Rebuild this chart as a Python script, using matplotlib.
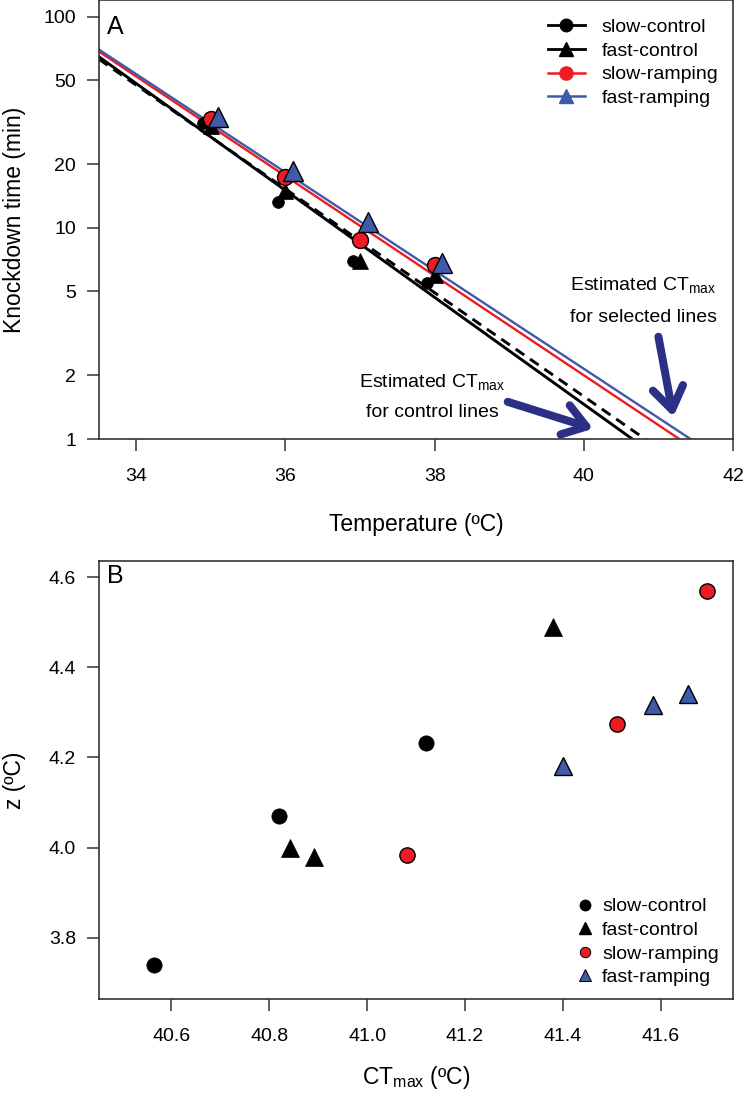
import numpy as np
import matplotlib
matplotlib.use('Agg')
import matplotlib.pyplot as plt
from matplotlib.lines import Line2D

plt.rcParams['font.family'] = ['Liberation Sans', 'DejaVu Sans']
plt.rcParams['mathtext.fontset'] = 'custom'
plt.rcParams['mathtext.rm'] = 'Liberation Sans'
plt.rcParams['mathtext.it'] = 'Liberation Sans:italic'

# ---------------- data ----------------
groups = ['slow-control', 'fast-control', 'slow-ramping', 'fast-ramping']

# Panel A: knockdown time (min) at each assay temperature
temps = [35, 36, 37, 38]
temp_offsets = [-0.1, 0.0, 0.0, 0.1]          # horizontal jitter used in the figure
kd_slow_control = [31.3, 13.2, 7.0, 5.5]
kd_fast_control = [30.4, 15.0, 7.0, 5.95]
kd_slow_ramping = [32.7, 17.5, 8.8, 6.7]
kd_fast_ramping = [33.6, 18.5, 10.7, 6.8]

# Panel A: pooled thermal death time fits (CTmax at 1 min, z)
ctmax_fit = [40.65, 40.82, 41.28, 41.43]
z_fit = [3.95, 4.07, 4.24, 4.30]

# Panel B: per-line CTmax and z
ctmax_slow_control = [40.565, 40.82, 41.12]
z_slow_control = [3.74, 4.07, 4.232]
ctmax_fast_control = [40.843, 40.892, 41.381]
z_fast_control = [3.999, 3.979, 4.489]
ctmax_slow_ramping = [41.082, 41.511, 41.695]
z_slow_ramping = [3.983, 4.274, 4.570]
ctmax_fast_ramping = [41.40, 41.584, 41.655]
z_fast_ramping = [4.18, 4.317, 4.341]

# ---------------- style ----------------
RED = '#ED1C24'
BLUE = '#3F5AA8'
NAVY = '#2B2F86'
SPINE = '#333333'

W, H = 744, 1097
fig = plt.figure(figsize=(W / 100, H / 100), dpi=100)

def px_axes(left, top, right, bottom):
    return fig.add_axes([left / W, 1 - bottom / H, (right - left) / W, (bottom - top) / H])

axA = px_axes(99, 0, 733, 439)
axB = px_axes(99, 561, 733, 999)

TICK_FS = 14
LAB_FS = 16.5

for ax in (axA, axB):
    for s in ax.spines.values():
        s.set_linewidth(1.2)
        s.set_color(SPINE)
    ax.tick_params(direction='out', length=8.6, width=1.1, color=SPINE,
                   labelsize=TICK_FS, which='major')
    ax.tick_params(axis='x', pad=12.5)
    ax.tick_params(axis='y', pad=8)
    ax.tick_params(which='minor', length=0)

# ---------------- Panel A ----------------
axA.set_yscale('log')
axA.set_xlim(33.5, 42)
axA.set_ylim(1, 120)

T = np.linspace(33.5, 42, 300)
line_styles = [dict(color='black', lw=2.1, ls='-'),
               dict(color='black', lw=2.1, ls=(0, (3.6, 2.4))),
               dict(color=RED, lw=1.7, ls='-'),
               dict(color=BLUE, lw=1.7, ls='-')]
for ct, z, st in zip(ctmax_fit, z_fit, line_styles):
    axA.plot(T, 10 ** ((ct - T) / z), zorder=2, **st)

kd_all = [kd_slow_control, kd_fast_control, kd_slow_ramping, kd_fast_ramping]
mk_A = [dict(marker='o', ms=8.5, mfc='black', mec='black', mew=0.5),
        dict(marker='^', ms=11, mfc='black', mec='black', mew=0.5),
        dict(marker='o', ms=11.5, mfc=RED, mec='black', mew=1.0),
        dict(marker='^', ms=15, mfc=BLUE, mec='black', mew=1.0)]
for kd, off, mk in zip(kd_all, temp_offsets, mk_A):
    axA.plot(np.array(temps) + off, kd, ls='none', zorder=3, **mk)

axA.set_xticks([34, 36, 38, 40, 42])
axA.set_xticklabels(['34', '36', '38', '40', '42'])
axA.set_yticks([1, 2, 5, 10, 20, 50, 100])
axA.set_yticklabels(['1', '2', '5', '10', '20', '50', '100'])
axA.yaxis.set_minor_locator(matplotlib.ticker.NullLocator())

axA.set_xlabel('Temperature (ºC)', fontsize=LAB_FS)
axA.set_ylabel('Knockdown time (min)', fontsize=LAB_FS)
axA.xaxis.label.set_va('baseline')
axA.xaxis.set_label_coords(0.5, -0.2096)
axA.yaxis.label.set_va('center')
axA.yaxis.set_label_coords(-0.1325, 0.5)

axA.text(0.0126, 0.966, 'A', transform=axA.transAxes, fontsize=18,
         ha='left', va='top')

legA = [Line2D([], [], color='black', lw=2, marker='o', ms=9),
        Line2D([], [], color='black', lw=2, marker='^', ms=10),
        Line2D([], [], color=RED, lw=1.8, marker='o', ms=9.5, mec=RED),
        Line2D([], [], color=BLUE, lw=1.8, marker='^', ms=10.5, mec=BLUE)]
axA.legend(legA, groups, loc='upper left', bbox_to_anchor=(0.708, 0.958),
           frameon=False, fontsize=14, handlelength=1.9, handletextpad=0.87,
           labelspacing=0.31, borderpad=0, borderaxespad=0)

# annotations
ct_lab = r'Estimated CT$_{\mathregular{max}}$'
axA.text(40.795, 5.35, ct_lab, fontsize=14, ha='center', va='center')
axA.text(40.795, 3.75, 'for selected lines', fontsize=14, ha='center', va='center')
axA.text(37.97, 1.867, ct_lab, fontsize=14, ha='center', va='center')
axA.text(37.97, 1.332, 'for control lines', fontsize=14, ha='center', va='center')

arrow_kw = dict(arrowstyle='->,head_length=0.8,head_width=0.55', lw=5.8,
                color=NAVY, shrinkA=0, shrinkB=0, mutation_scale=20,
                capstyle='round', joinstyle='round')
axA.annotate('', xy=(40.125, 1.119), xytext=(38.98, 1.50), arrowprops=arrow_kw)
axA.annotate('', xy=(41.20, 1.275), xytext=(41.0, 3.05), arrowprops=arrow_kw)

# ---------------- Panel B ----------------
axB.set_xlim(40.452, 41.748)
axB.set_ylim(3.664, 4.636)

ctB = [ctmax_slow_control, ctmax_fast_control, ctmax_slow_ramping, ctmax_fast_ramping]
zB = [z_slow_control, z_fast_control, z_slow_ramping, z_fast_ramping]
mk_B = [dict(marker='o', ms=11, mfc='black', mec='black', mew=0.5),
        dict(marker='^', ms=13.5, mfc='black', mec='black', mew=0.5),
        dict(marker='o', ms=11, mfc=RED, mec='black', mew=1.0),
        dict(marker='^', ms=13.5, mfc=BLUE, mec='black', mew=1.0)]
for x, y, mk in zip(ctB, zB, mk_B):
    axB.plot(x, y, ls='none', zorder=3, **mk)

xtB = [40.6, 40.8, 41.0, 41.2, 41.4, 41.6]
axB.set_xticks(xtB)
axB.set_xticklabels([f'{v:.1f}' for v in xtB])
ytB = [3.8, 4.0, 4.2, 4.4, 4.6]
axB.set_yticks(ytB)
axB.set_yticklabels([f'{v:.1f}' for v in ytB])

axB.set_xlabel(r'CT$_{\mathregular{max}}$ (ºC)', fontsize=LAB_FS)
axB.set_ylabel('z (ºC)', fontsize=LAB_FS)
axB.xaxis.label.set_va('baseline')
axB.xaxis.set_label_coords(0.5, -0.194)
axB.yaxis.label.set_va('center')
axB.yaxis.set_label_coords(-0.1325, 0.5)

axB.text(0.0126, 0.994, 'B', transform=axB.transAxes, fontsize=18,
         ha='left', va='top')

legB = [Line2D([], [], ls='none', marker='o', ms=7.5, mfc='black', mec='black'),
        Line2D([], [], ls='none', marker='^', ms=9, mfc='black', mec='black'),
        Line2D([], [], ls='none', marker='o', ms=7.5, mfc=RED, mec='black', mew=0.7),
        Line2D([], [], ls='none', marker='^', ms=9, mfc=BLUE, mec='black', mew=0.7)]
axB.legend(legB, groups, loc='lower left', bbox_to_anchor=(0.751, 0.029),
           frameon=False, fontsize=14, handlelength=1.0, handletextpad=0.39,
           labelspacing=0.31, borderpad=0, borderaxespad=0)

fig.savefig('out.png', dpi=100)
